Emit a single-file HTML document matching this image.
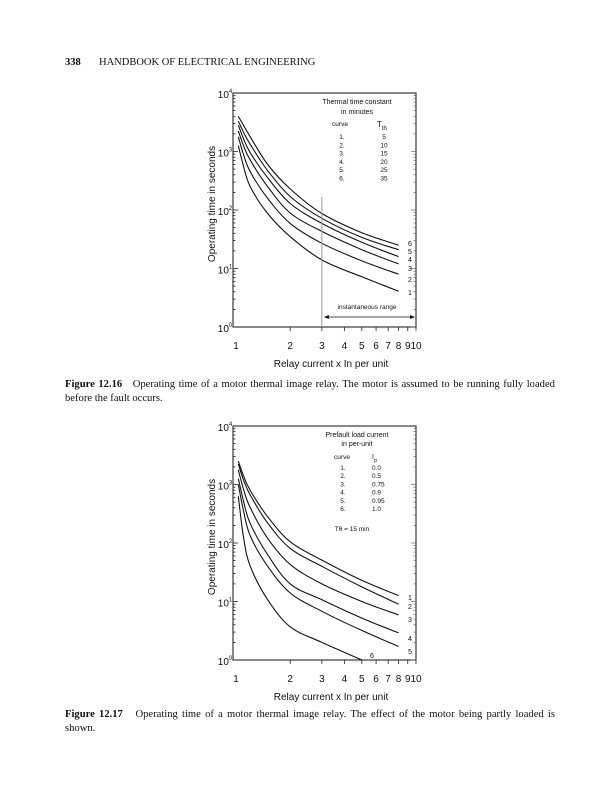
<!DOCTYPE html>
<html><head><meta charset="utf-8">
<style>
html,body{margin:0;padding:0;background:#fff;}
#page{position:relative;width:615px;height:800px;overflow:hidden;font-family:"Liberation Serif",serif;color:#111;}
.hdr{position:absolute;top:57px;font-size:10.5px;}
.cap{position:absolute;left:65px;width:490px;font-size:10.6px;line-height:14px;text-align:justify;text-align-last:left;}
svg{position:absolute;left:0;top:0;}
svg text{font-family:"Liberation Sans",sans-serif;fill:#111;}
</style></head><body>
<div id="page">
<div class="hdr" style="left:65px;font-weight:bold">338</div>
<div class="hdr" style="left:99px">HANDBOOK OF ELECTRICAL ENGINEERING</div>
<div class="cap" style="top:378px"><b>Figure 12.16</b>&nbsp;&nbsp;&nbsp;Operating time of a motor thermal image relay. The motor is assumed to be running fully loaded before the fault occurs.</div>
<div class="cap" style="top:708px"><b>Figure 12.17</b>&nbsp;&nbsp;&nbsp;Operating time of a motor thermal image relay. The effect of the motor being partly loaded is shown.</div>
<svg id="svg" width="615" height="800"></svg>
</div>
<script>
// ---- data ----
const xPoints = [1.03, 1.1, 1.2, 1.5, 2, 3, 5, 8];
// Figure 12.16 curves 1..6 (thermal time constant)
const topCurve1 = [1260, 560, 250, 87, 35, 14, 7.2, 4.1];
const topCurve2 = [1780, 890, 450, 158, 59, 27, 13.5, 8];
const topCurve3 = [2240, 1260, 710, 250, 89, 43, 21, 12];
const topCurve4 = [2820, 1660, 950, 355, 129, 59, 28, 16];
const topCurve5 = [3310, 2140, 1320, 470, 170, 72, 34, 21];
const topCurve6 = [3980, 2820, 1780, 600, 229, 87, 41, 25];
const topLabels = ['1', '2', '3', '4', '5', '6'];
const topTh = ['5', '10', '15', '20', '25', '35'];
// Figure 12.17 curves 1..6 (prefault load)
const botCurve1 = [2510, 1410, 790, 280, 105, 51, 23, 12.6];
const botCurve2 = [2240, 1200, 660, 219, 81, 40, 17.8, 9];
const botCurve3 = [1780, 830, 400, 120, 43, 20, 10, 5.9];
const botCurve4 = [1260, 525, 214, 63, 20, 10.7, 5.2, 2.9];
const botCurve5 = [1000, 355, 132, 40, 14, 6.8, 3.2, 1.7];
const botCurve6 = [630, 126, 40, 10.7, 3.7, 2.0, 1.0, null];
const botLabels = ['1', '2', '3', '4', '5', '6'];
const botIp = ['0.0', '0.5', '0.75', '0.9', '0.95', '1.0'];
const xTickLabels = ['1', '2', '3', '4', '5', '6', '7', '8', '9', '10'];
const yTickExp = ['0', '1', '2', '3', '4'];

const NS = 'http://www.w3.org/2000/svg';
const svg = document.getElementById('svg');
function mk(tag, attrs, parent) {
  const e = document.createElementNS(NS, tag);
  for (const k in attrs) e.setAttribute(k, attrs[k]);
  (parent || svg).appendChild(e);
  return e;
}
function smoothPath(pts) {
  if (pts.length < 2) return '';
  let d = 'M' + pts[0][0].toFixed(1) + ',' + pts[0][1].toFixed(1);
  for (let i = 0; i < pts.length - 1; i++) {
    const p0 = pts[i - 1] || pts[i], p1 = pts[i], p2 = pts[i + 1], p3 = pts[i + 2] || p2;
    const c1x = p1[0] + (p2[0] - p0[0]) / 6, c1y = p1[1] + (p2[1] - p0[1]) / 6;
    const c2x = p2[0] - (p3[0] - p1[0]) / 6, c2y = p2[1] - (p3[1] - p1[1]) / 6;
    d += 'C' + c1x.toFixed(1) + ',' + c1y.toFixed(1) + ' ' + c2x.toFixed(1) + ',' + c2y.toFixed(1) + ' ' + p2[0].toFixed(1) + ',' + p2[1].toFixed(1);
  }
  return d;
}

function drawChart(cfg) {
  const L = cfg.left, R = cfg.right, T = cfg.top, B = cfg.bottom;
  const xs = v => L + Math.log10(v) * (R - L);
  const ys = v => B - Math.log10(v) / 4 * (B - T);
  const g = mk('g', {});
  
  
  const frame = mk('rect', {x: L - 3, y: T, width: R - L + 3, height: B - T, fill: 'none', stroke: '#111', 'stroke-width': 1}, g);
  
  
  for (let d = 0; d < 4; d++) {
    for (let m = 1; m <= 9; m++) {
      const y = ys(m * Math.pow(10, d));
      const len = m === 1 ? 5 : 2.5;
      const t1 = mk('line', {x1: L - 3, x2: L - 3 + len, y1: y, y2: y, stroke: '#222', 'stroke-width': 0.8}, g);
      
      
      const t2 = mk('line', {x1: R, x2: R - len, y1: y, y2: y, stroke: '#555', 'stroke-width': 0.6}, g);
      
      
    }
  }
  yTickExp.forEach((e, i) => {
    const y = ys(Math.pow(10, i));
    const t = mk('text', {x: L - 11, y: y + 5, 'font-size': 10, 'text-anchor': 'middle'}, g);
    
    
    t.textContent = '10';
    const s = mk('tspan', {dy: -5, 'font-size': 6}, t);
    s.textContent = e;
  });
  xTickLabels.forEach((lab, i) => {
    const v = i + 1, x = xs(v);
    if (v > 1) {
      const tk = mk('line', {x1: x, x2: x, y1: B, y2: B + 4, stroke: '#222', 'stroke-width': 0.8}, g);
      
      
    }
    const t = mk('text', {x: x, y: B + 22, 'font-size': 10, 'text-anchor': 'middle'}, g);
    
    
    t.textContent = lab;
  });
  const xt = mk('text', {x: (L + R) / 2 + 5, y: B + 40, 'font-size': 10, 'text-anchor': 'middle'}, g);
  
  
  xt.textContent = 'Relay current x In   per unit';
  const yt = mk('text', {x: 0, y: 0, 'font-size': 10, 'text-anchor': 'middle', transform: 'translate(' + (L - 21) + ',' + ((T + B) / 2 - 6) + ') rotate(-90)'}, g);
  
  
  yt.textContent = 'Operating time in seconds';
  cfg.curves.forEach((c, ci) => {
    const pts = [];
    c.forEach((v, i) => { if (v !== null) pts.push([xs(xPoints[i]), ys(v)]); });
    const p = mk('path', {d: smoothPath(pts), fill: 'none', stroke: '#111', 'stroke-width': 1.1, 'stroke-linejoin': 'round'}, g);
    
    
  });
  return {g, xs, ys};
}

// ---- figure 12.16 ----
const c1 = drawChart({name: 'figure-12-16-chart', prefix: 'thermal', left: 236, right: 416, top: 93, bottom: 327,
  curves: [topCurve1, topCurve2, topCurve3, topCurve4, topCurve5, topCurve6]});
const labYTop = [292, 279, 268, 259, 251, 243];
topLabels.forEach((l, i) => {
  const t = mk('text', {x: 410, y: labYTop[i] + 3, 'font-size': 7, 'text-anchor': 'middle'}, c1.g);
  
  
  t.textContent = l;
});
[['Thermal time constant', 104], ['in minutes', 114]].forEach(([s, y]) => {
  const t = mk('text', {x: 357, y: y, 'font-size': 7, 'text-anchor': 'middle'}, c1.g);
  
  
  t.textContent = s;
});
{
  const t = mk('text', {x: 340, y: 126, 'font-size': 6.5, 'text-anchor': 'middle'}, c1.g);
  
  
  t.textContent = 'curve';
  const t2 = mk('text', {x: 377, y: 127, 'font-size': 8}, c1.g);
  
  
  t2.textContent = 'T';
  const s = mk('tspan', {dy: 3, 'font-size': 6}, t2); s.textContent = 'th';
}
topTh.forEach((v, i) => {
  const y = 139 + i * 8.3;
  const a = mk('text', {x: 342, y: y, 'font-size': 6.5, 'text-anchor': 'middle'}, c1.g);
  
  
  a.textContent = topLabels[i] + '.';
  const b = mk('text', {x: 384, y: y, 'font-size': 6.5, 'text-anchor': 'middle'}, c1.g);
  
  
  b.textContent = v;
});
{
  const x3 = c1.xs(3);
  const vl = mk('line', {x1: x3, x2: x3, y1: 197, y2: 327, stroke: '#999', 'stroke-width': 1}, c1.g);
  
  
  const ar = mk('line', {x1: x3 + 3, x2: 413, y1: 317, y2: 317, stroke: '#111', 'stroke-width': 0.8}, c1.g);
  
  
  const h1 = mk('path', {d: 'M' + (x3 + 2) + ',317 l5,-2 v4 z', fill: '#111'}, c1.g);
  
  
  const h2 = mk('path', {d: 'M415,317 l-5,-2 v4 z', fill: '#111'}, c1.g);
  
  
  const lt = mk('text', {x: 367, y: 309, 'font-size': 6.5, 'text-anchor': 'middle'}, c1.g);
  
  
  lt.textContent = 'instantaneous range';
}

// ---- figure 12.17 ----
const c2 = drawChart({name: 'figure-12-17-chart', prefix: 'prefault', left: 236, right: 416, top: 426, bottom: 660,
  curves: [botCurve1, botCurve2, botCurve3, botCurve4, botCurve5, botCurve6]});
const labYBot = [[410, 597], [410, 606], [410, 619], [410, 638], [410, 651], [372, 655]];
botLabels.forEach((l, i) => {
  const t = mk('text', {x: labYBot[i][0], y: labYBot[i][1] + 3, 'font-size': 7, 'text-anchor': 'middle'}, c2.g);
  
  
  t.textContent = l;
});
[['Prefault load current', 437], ['in per-unit', 446]].forEach(([s, y]) => {
  const t = mk('text', {x: 357, y: y, 'font-size': 7, 'text-anchor': 'middle'}, c2.g);
  
  
  t.textContent = s;
});
{
  const t = mk('text', {x: 342, y: 459, 'font-size': 6.5, 'text-anchor': 'middle'}, c2.g);
  
  
  t.textContent = 'curve';
  const t2 = mk('text', {x: 372, y: 459, 'font-size': 7}, c2.g);
  
  
  t2.textContent = 'I';
  const s = mk('tspan', {dy: 3, 'font-size': 5.5}, t2); s.textContent = 'p';
}
botIp.forEach((v, i) => {
  const y = 470 + i * 8.2;
  const a = mk('text', {x: 343, y: y, 'font-size': 6.5, 'text-anchor': 'middle'}, c2.g);
  
  
  a.textContent = botLabels[i] + '.';
  const b = mk('text', {x: 372, y: y, 'font-size': 6.5}, c2.g);
  
  
  b.textContent = v;
});
{
  const t = mk('text', {x: 352, y: 531, 'font-size': 6.5, 'text-anchor': 'middle'}, c2.g);
  
  
  t.textContent = 'Tθ = 15 min';
}
</script>
</body></html>
